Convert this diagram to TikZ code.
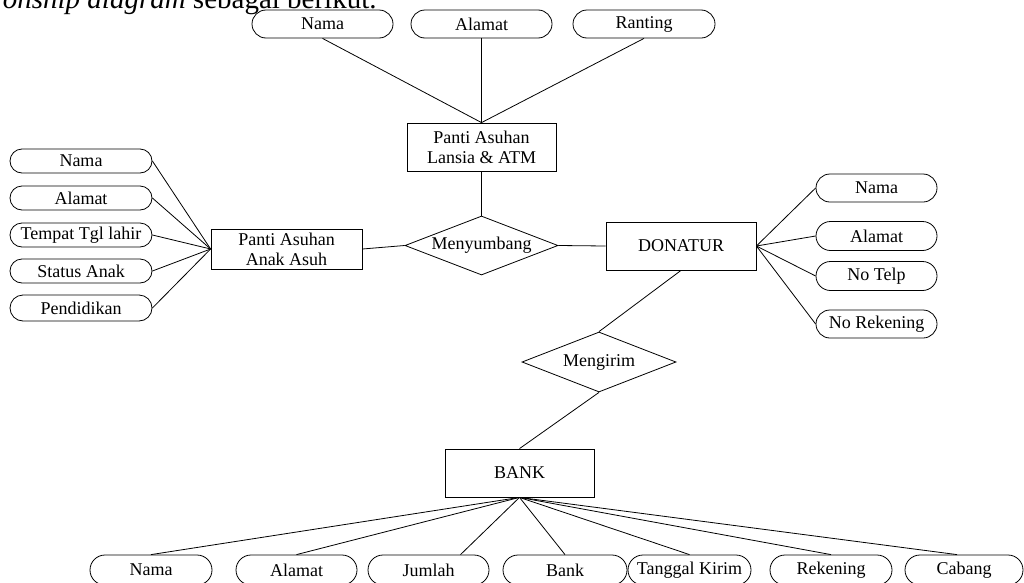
\documentclass[tikz,border=0pt]{standalone}
\usepackage{fontspec}
\setmainfont{Liberation Serif}
\usetikzlibrary{shapes.geometric,shapes.misc,calc}
\begin{document}
\begin{tikzpicture}[x=0.75pt,y=-0.75pt,
  every node/.style={font=\fontsize{13.5}{15}\selectfont, inner sep=0pt, line width=0.6pt},
  bw/.style={minimum width=#1*0.75pt},
  bh/.style={minimum height=#1*0.75pt},
  attr/.style={draw, rounded rectangle},
  ent/.style={draw, rectangle, align=center},
  rel/.style={draw, diamond, aspect=2.6},
  link/.style={draw, line width=0.6pt}
]
\useasboundingbox (0,0) rectangle (1024,582);
\clip (0,0) rectangle (1024,582);

% caption fragment at the top (cut off)
\node[anchor=base east, font=\fontsize{21.75}{26}\selectfont] (cap) at (377,8) {\textit{onship diagram} sebagai berikut.};

% entities and relationships
\node[ent, bw=149, bh=48] (lansia) at (481.5,147) {Panti Asuhan\\Lansia \& ATM};
\node[rel, bw=153, bh=59] (nyumbang) at (481.5,245.5) {Menyumbang};
\node[ent, bw=150, bh=48] (donatur) at (681,246) {DONATUR};
\node[ent, bw=151, bh=40] (anak) at (286.5,249) {Panti Asuhan\\Anak Asuh};
\node[rel, bw=154, bh=60] (kirim) at (599,362) {Mengirim};
\node[ent, bw=149, bh=48] (bank) at (519.5,473) {BANK};

% attributes of Panti Asuhan Lansia & ATM
\node[attr, bw=141, bh=28] (tnama) at (322.5,24) {Nama};
\node[attr, bw=141, bh=28] (talamat) at (481.5,24) {Alamat};
\node[attr, bw=142, bh=28] (tranting) at (644,24) {Ranting};

% attributes of Panti Asuhan Anak Asuh
\node[attr, bw=142, bh=24] (lnama) at (81,161) {Nama};
\node[attr, bw=142, bh=24] (lalamat) at (81,198) {Alamat};
\node[attr, bw=142, bh=24] (ltempat) at (81,235) {Tempat Tgl lahir};
\node[attr, bw=142, bh=24] (lstatus) at (81,271) {Status Anak};
\node[attr, bw=142, bh=26] (lpend) at (81,308) {Pendidikan};

% attributes of DONATUR
\node[attr, bw=121, bh=28] (dnama) at (876.5,188) {Nama};
\node[attr, bw=121, bh=29] (dalamat) at (876.5,236) {Alamat};
\node[attr, bw=121, bh=29] (dtelp) at (876.5,276) {No Telp};
\node[attr, bw=121, bh=28] (drek) at (876.5,324) {No Rekening};

% attributes of BANK
\node[attr, bw=122, bh=30] (bnama) at (151,570) {Nama};
\node[attr, bw=121, bh=30] (balamat) at (296.5,570) {Alamat};
\node[attr, bw=121, bh=30] (bjumlah) at (428.5,570) {Jumlah};
\node[attr, bw=124, bh=30] (bbank) at (565,570) {Bank};
\node[attr, bw=123, bh=30] (btgl) at (689.5,570) {Tanggal Kirim};
\node[attr, bw=122, bh=30] (brek) at (831,570) {Rekening};
\node[attr, bw=118, bh=30] (bcabang) at (964,570) {Cabang};

% connectors
\path[link] (tnama.south) -- (lansia.north);
\path[link] (talamat.south) -- (lansia.north);
\path[link] (tranting.south) -- (lansia.north);
\path[link] (lansia.south) -- (nyumbang.north);
\path[link] (anak.east) -- (nyumbang.west);
\path[link] (nyumbang.east) -- (donatur.west);

\foreach \a in {lnama,lalamat,ltempat,lstatus,lpend}
  \path[link] (\a.east) -- (anak.west);
\foreach \a in {dnama,dalamat,dtelp,drek}
  \path[link] (donatur.east) -- (\a.west);

\path[link] (donatur.south) -- (kirim.north);
\path[link] (kirim.south) -- (bank.north);

\path[link] (bank.south) -- (bnama.north);
\path[link] (bank.south) -- (balamat.north);
\path[link] (bank.south) -- ($(bjumlah.north)+(32,0)$);
\path[link] (bank.south) -- (bbank.north);
\path[link] (bank.south) -- (btgl.north);
\path[link] (bank.south) -- (brek.north);
\path[link] (bank.south) -- ($(bcabang.north)+(-7,0)$);
\end{tikzpicture}
\end{document}
